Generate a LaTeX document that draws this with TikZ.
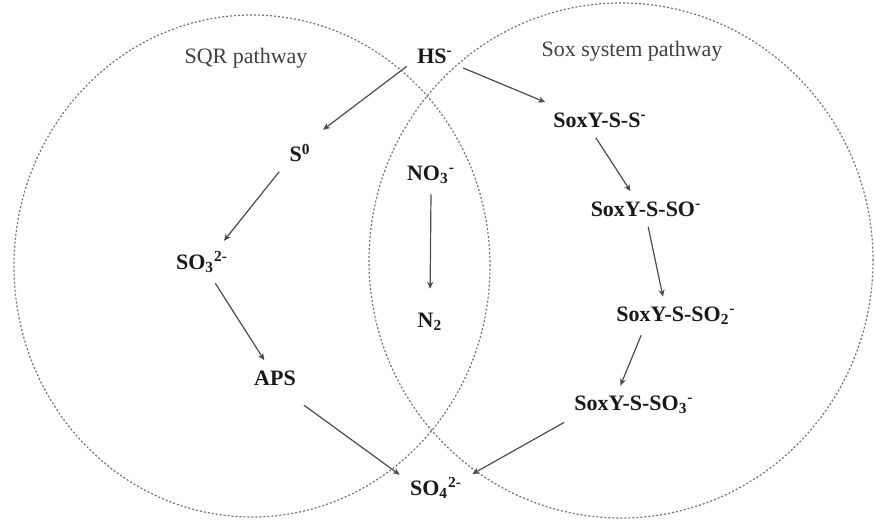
\documentclass[tikz,border=0pt]{standalone}
\usepackage{fontspec}
\setmainfont{Liberation Serif}
\usetikzlibrary{arrows.meta}

\begin{document}
\begin{tikzpicture}[
  x=0.5pt, y=-0.5pt,
  species/.style={font=\fontsize{11}{13}\selectfont\bfseries, text=black!90, inner sep=5pt},
  pathname/.style={font=\fontsize{11}{13}\selectfont, text=black!75},
  zone/.style={draw=black!55, line width=0.6pt, dash pattern=on 1pt off 1pt},
  conv/.style={-{Stealth[length=3.5pt, width=3pt]}, black!70, line width=0.6pt}
]
\useasboundingbox (0,0) rectangle (875,520);
% the two pathway zones
\draw[zone] (252,266) ellipse [x radius=119pt, y radius=125.5pt];
\draw[zone] (621,260.5) ellipse [x radius=126pt, y radius=128.75pt];
\node[pathname] (sqr) at (246,58) {SQR pathway};
\node[pathname] (sox) at (632,51) {Sox system pathway};
% species
\node[species] (hs) at (435,56) {HS\textsuperscript{-}};
\node[species] (s0) at (300,153) {S\textsuperscript{0}};
\node[species] (so3) at (202,262) {SO\textsubscript{3}\textsuperscript{2-}};
\node[species] (aps) at (275,378) {APS};
\node[species] (so4) at (436,488) {SO\textsubscript{4}\textsuperscript{2-}};
\node[species] (no3) at (431,175) {NO\textsubscript{3}\textsuperscript{-}};
\node[species] (n2) at (430,322) {N\textsubscript{2}};
\node[species] (sss) at (600,120) {SoxY-S-S\textsuperscript{-}};
\node[species] (sso) at (646,209) {SoxY-S-SO\textsuperscript{-}};
\node[species] (sso2) at (676,316) {SoxY-S-SO\textsubscript{2}\textsuperscript{-}};
\node[species] (sso3) at (634,405) {SoxY-S-SO\textsubscript{3}\textsuperscript{-}};
% SQR branch
\draw[conv, shorten >=3pt] (hs.200) -- (s0.47);
\draw[conv] (s0.-138) -- (so3.44);
\draw[conv] (so3.-58) -- (aps.121);
\draw[conv, shorten <=8pt] (aps.-48) -- (so4.160);
% denitrification
\draw[conv, shorten >=7pt] (no3.south) -- (n2.north);
% Sox branch
\draw[conv] (hs.-23) -- (sss.162);
\draw[conv] (sss.-103) -- (sso.131);
\draw[conv] (sso.-83) -- (sso2.124);
\draw[conv] (sso2.-151) -- (sso3.125);
\draw[conv] (sso3.194) -- (so4.21);
\end{tikzpicture}
\end{document}
